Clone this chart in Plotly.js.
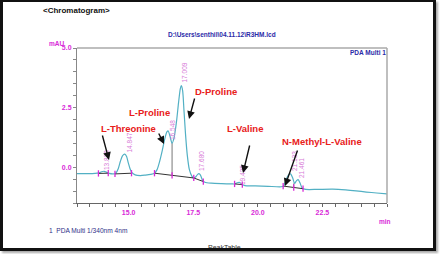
<!DOCTYPE html>
<html><head><meta charset="utf-8">
<script src="https://cdn.plot.ly/plotly-3.0.1.min.js"></script>
<style>
html,body{margin:0;padding:0;background:#fff;}
#wrap{position:relative;width:440px;height:254px;overflow:hidden;}
#chart{width:440px;height:254px;}
#frame{position:absolute;left:0;top:0;width:436px;height:251px;box-sizing:border-box;border:3px solid #111;border-top-width:2px;box-shadow:2px 2px 2px #aaa;pointer-events:none;}
</style></head><body>
<div id="wrap"><div id="chart"></div><div id="frame"></div></div>
<script>
// chromatogram signal (min, mAU)
const time = [13.0,13.4,13.7,13.85,13.95,14.05,14.15,14.25,14.4,14.5,14.6,14.68,14.76,14.85,14.92,14.98,15.05,15.12,15.25,15.45,15.65,15.85,16.0,16.1,16.2,16.3,16.4,16.48,16.53,16.6,16.68,16.76,16.85,16.93,17.0,17.04,17.09,17.14,17.2,17.27,17.35,17.45,17.52,17.6,17.67,17.72,17.78,17.86,17.95,18.2,18.6,19.0,19.1,19.2,19.3,19.4,19.5,19.9,20.4,20.9,21.0,21.1,21.2,21.27,21.35,21.42,21.5,21.56,21.63,21.72,21.85,22.3,22.9,23.4,23.8,24.2,24.6,25.0];
const signal = [-0.27,-0.27,-0.26,-0.24,-0.19,-0.17,-0.21,-0.26,-0.28,-0.25,-0.05,0.25,0.48,0.55,0.45,0.2,-0.05,-0.22,-0.32,-0.35,-0.33,-0.3,-0.25,-0.1,0.25,0.7,1.2,1.48,1.52,1.3,1.0,1.25,1.9,2.7,3.3,3.42,3.2,2.4,1.4,0.5,-0.1,-0.38,-0.45,-0.4,-0.3,-0.27,-0.33,-0.55,-0.63,-0.67,-0.69,-0.7,-0.7,-0.65,-0.64,-0.72,-0.77,-0.78,-0.8,-0.82,-0.78,-0.5,-0.3,-0.28,-0.45,-0.68,-0.56,-0.52,-0.65,-0.88,-0.93,-0.93,-0.92,-0.95,-0.99,-1.04,-1.08,-1.12];
// integration baselines
const baseTime = [13.83,14.21,null,14.47,15.11,null,16.0,17.52,null,17.52,17.89,null,19.1,19.4,null,20.98,21.75];
const baseVal  = [-0.26,-0.25,null,-0.28,-0.25,null,-0.25,-0.45,null,-0.45,-0.6,null,-0.7,-0.73,null,-0.79,-0.9];
// perpendicular drop lines
const dropTime = [16.68,16.68,null,21.39,21.39];
const dropVal  = [1.0,-0.34,null,-0.68,-0.85];
// peak start/end markers
const markTime = [13.83,14.21,14.47,15.11,16.0,16.68,17.52,17.89,19.1,19.4,20.98,21.39,21.75];
const markVal  = [-0.26,-0.25,-0.28,-0.25,-0.25,-0.34,-0.45,-0.6,-0.7,-0.73,-0.79,-0.85,-0.9];
// retention time labels
const rtLabels = ['13.838','14.847','16.548','17.009','17.680','19.425','21.133','21.461'];
// compound names
const compounds = ['L-Threonine','L-Proline','D-Proline','L-Valine','N-Methyl-L-Valine'];
const xTicks = [15.0,17.5,20.0,22.5];
const xTickText = ['15.0','17.5','20.0','22.5'];
const yTicks = [0.0,2.5,5.0];
const yTickText = ['0.0','2.5','5.0'];

const L=77,T=48,W=310,H=155;
const px=x=>(x-L)/W, py=y=>(T+H-y)/H;
const MAG='#d82ad8', RTC='#d77ad7', RED='#e8201a', BLUE='#2a2aa8';
const FF='Liberation Sans, Arial, sans-serif';

const traces = [
 {x:time,y:signal,mode:'lines',line:{color:'#52b0c4',width:1.2,shape:'spline',smoothing:0.7},hoverinfo:'skip'},
 {x:baseTime,y:baseVal,mode:'lines',line:{color:'#333',width:1},connectgaps:false,hoverinfo:'skip'},
 {x:dropTime,y:dropVal,mode:'lines',line:{color:'#777',width:1},connectgaps:false,hoverinfo:'skip'},
 {x:markTime,y:markVal,mode:'markers',marker:{symbol:'line-ns',size:4.5,line:{color:MAG,width:1.3}},hoverinfo:'skip'}
];

const ann = [];
function txt(t,x,y,o){ann.push(Object.assign({text:t,x:px(x),y:py(y),xref:'paper',yref:'paper',showarrow:false,xanchor:'left',yanchor:'middle',font:{family:FF,size:7,color:'#000'}},o||{}));}
function arrow(tx,ty,hx,hy){ann.push({text:'',x:px(hx),y:py(hy),xref:'paper',yref:'paper',showarrow:true,ax:tx-hx,ay:ty-hy,arrowhead:2,arrowsize:1.1,arrowwidth:1.4,arrowcolor:'#111'});}

txt('<b>&lt;Chromatogram&gt;</b>',41,10,{font:{family:FF,size:8,color:'#111'}});
txt('<b>D:\\Users\\senthil\\04.11.12\\R3HM.lcd</b>',166,34,{font:{family:FF,size:6.5,color:BLUE}});
txt('<b>mAU</b>',47,43,{font:{family:FF,size:6.5,color:MAG}});
txt('<b>PDA Multi 1</b>',388,52.5,{xanchor:'right',font:{family:FF,size:6.5,color:BLUE}});
txt('<b>min</b>',377,221,{font:{family:FF,size:6.5,color:MAG}});
txt('1  PDA Multi 1/340nm 4nm',47,230,{font:{family:FF,size:6.6,color:'#303088'}});
txt('PeakTable',206,247,{font:{family:FF,size:7,color:'#333'}});

const namePos=[[99,128],[127,112],[193,91.5],[225,128],[280,141]];
compounds.forEach((c,i)=>txt('<b>'+c+'</b>',namePos[i][0],namePos[i][1],{font:{family:FF,size:9.5,color:RED}}));

const rtPos=[[106,160],[128.5,143],[172,130],[183.5,73],[201,161],[242,175],[294,161],[301,168]];
rtLabels.forEach((r,i)=>txt(r,rtPos[i][0],rtPos[i][1],{xanchor:'center',textangle:-90,font:{family:FF,size:6.5,color:RTC}}));

arrow(102,134,109,160);
arrow(158,132,164,144);
arrow(195,97,189,119);
arrow(250,144,243,173);
arrow(298,149,285,186);

const bold=a=>a.map(s=>'<b>'+s+'</b>');
const layout = {
 width:440,height:254,margin:{l:L,r:440-L-W,t:T,b:254-T-H},
 paper_bgcolor:'#fff',plot_bgcolor:'#fff',showlegend:false,
 xaxis:{range:[13,25],tickmode:'array',tickvals:xTicks,ticktext:bold(xTickText),showgrid:false,zeroline:false,
   showline:true,linecolor:'#666',linewidth:1,ticks:'outside',ticklen:3,tickcolor:'#666',
   tickfont:{family:FF,size:7,color:MAG},
   minor:{tickmode:'linear',tick0:13,dtick:0.5,ticks:'outside',ticklen:3,tickcolor:'#666',showgrid:false}},
 yaxis:{range:[-1.5,5.0],tickmode:'array',tickvals:yTicks,ticktext:bold(yTickText),showgrid:false,zeroline:false,
   showline:true,linecolor:'#888',linewidth:1,ticks:'outside',ticklen:3,tickcolor:'#888',
   tickfont:{family:FF,size:7,color:MAG},
   minor:{tickmode:'linear',tick0:0,dtick:0.5,ticks:'outside',ticklen:3,tickcolor:'#888',showgrid:false}},
 shapes:[{type:'line',xref:'paper',yref:'paper',x0:0,x1:1,y0:1,y1:1,line:{color:'#aaa',width:1.5}},
         {type:'line',xref:'paper',yref:'paper',x0:1,x1:1,y0:0,y1:1,line:{color:'#aaa',width:1.5}}],
 annotations:ann
};
Plotly.newPlot('chart',traces,layout,{staticPlot:true,displayModeBar:false});
</script></body></html>
